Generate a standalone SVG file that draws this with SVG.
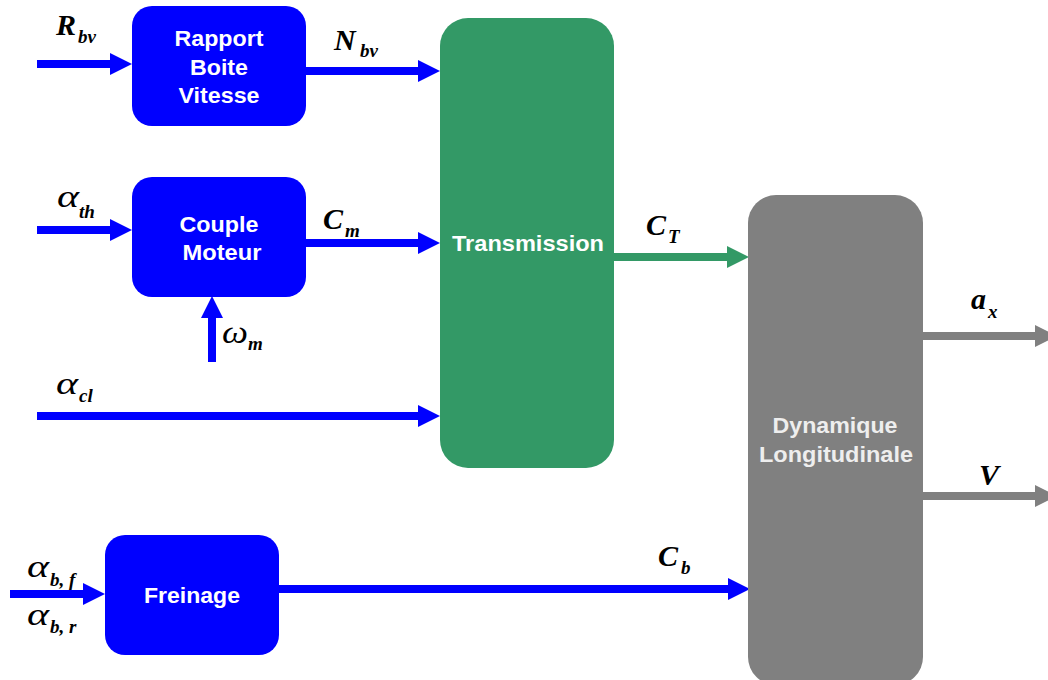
<svg xmlns="http://www.w3.org/2000/svg" width="1048" height="680" viewBox="0 0 1048 680">
<style>
.blk{font-family:"Liberation Sans",Arial,sans-serif;font-weight:bold;font-size:22px;fill:#fff;text-anchor:middle}
.m{font-family:"Liberation Serif","Times New Roman",serif;font-weight:bold;font-style:italic;font-size:30px;fill:#000}
.g{font-family:"Liberation Serif","Times New Roman",serif;font-style:italic;font-size:32px;fill:#000}
.s{font-family:"Liberation Serif","Times New Roman",serif;font-weight:bold;font-style:italic;font-size:19px;fill:#000}
.cb{stroke:#0000ff;stroke-width:8;fill:none}
.cg{stroke:#339966;stroke-width:8;fill:none}
.cy{stroke:#808080;stroke-width:8;fill:none}
</style>
<defs>
<marker id="ab" markerUnits="userSpaceOnUse" markerWidth="22" markerHeight="22" refX="0" refY="11" orient="auto" overflow="visible"><path d="M0,0 L22,11 L0,22 z" fill="#0000ff"/></marker>
<marker id="ag" markerUnits="userSpaceOnUse" markerWidth="22" markerHeight="22" refX="0" refY="11" orient="auto" overflow="visible"><path d="M0,0 L22,11 L0,22 z" fill="#339966"/></marker>
<marker id="ay" markerUnits="userSpaceOnUse" markerWidth="22" markerHeight="22" refX="0" refY="11" orient="auto" overflow="visible"><path d="M0,0 L22,11 L0,22 z" fill="#808080"/></marker>
</defs>
<g id="connectors">
<line class="cb" x1="37" y1="64" x2="110" y2="64" marker-end="url(#ab)"/>
<line class="cb" x1="306" y1="71" x2="418" y2="71" marker-end="url(#ab)"/>
<line class="cb" x1="37" y1="230" x2="110" y2="230" marker-end="url(#ab)"/>
<line class="cb" x1="306" y1="243" x2="418" y2="243" marker-end="url(#ab)"/>
<line class="cb" x1="212" y1="362" x2="212" y2="318" marker-end="url(#ab)"/>
<line class="cb" x1="37" y1="416" x2="418" y2="416" marker-end="url(#ab)"/>
<line class="cb" x1="10" y1="594" x2="83" y2="594" marker-end="url(#ab)"/>
<line class="cb" x1="279" y1="589" x2="728" y2="589" marker-end="url(#ab)"/>
<line class="cg" x1="614" y1="257" x2="727" y2="257" marker-end="url(#ag)"/>
<line class="cy" x1="923" y1="336" x2="1035" y2="336" marker-end="url(#ay)"/>
<line class="cy" x1="923" y1="496" x2="1035" y2="496" marker-end="url(#ay)"/>
</g>
<g id="rapport">
<rect x="132" y="6" width="174" height="120" rx="20" fill="#0000ff"/>
<text class="blk" x="219" y="46" textLength="89" lengthAdjust="spacingAndGlyphs">Rapport</text>
<text class="blk" x="219" y="75" textLength="58" lengthAdjust="spacingAndGlyphs">Boite</text>
<text class="blk" x="219" y="103" textLength="81" lengthAdjust="spacingAndGlyphs">Vitesse</text>
</g>
<g id="couple">
<rect x="132" y="177" width="174" height="120" rx="20" fill="#0000ff"/>
<text class="blk" x="219" y="232" textLength="79" lengthAdjust="spacingAndGlyphs">Couple</text>
<text class="blk" x="222" y="260" textLength="79" lengthAdjust="spacingAndGlyphs">Moteur</text>
</g>
<g id="transmission">
<rect x="440" y="18" width="174" height="450" rx="28" fill="#339966"/>
<text class="blk" x="528" y="251" textLength="152" lengthAdjust="spacingAndGlyphs">Transmission</text>
</g>
<g id="freinage">
<rect x="105" y="535" width="174" height="120" rx="20" fill="#0000ff"/>
<text class="blk" x="192" y="603" textLength="96" lengthAdjust="spacingAndGlyphs">Freinage</text>
</g>
<g id="dynamique">
<rect x="748" y="195" width="175" height="490" rx="28" fill="#808080"/>
<text class="blk" x="835" y="433" textLength="125" lengthAdjust="spacingAndGlyphs" style="fill:#eeeeee">Dynamique</text>
<text class="blk" x="836" y="462" textLength="154" lengthAdjust="spacingAndGlyphs" style="fill:#eeeeee">Longitudinale</text>
</g>
<g id="labels">
<text class="m" x="56" y="35">R</text><text class="s" x="78" y="43">bv</text>
<text class="m" x="334" y="50">N</text><text class="s" x="360" y="57">bv</text>
<text class="g" x="57" y="207" textLength="22" lengthAdjust="spacingAndGlyphs">α</text><text class="s" x="79" y="218">th</text>
<text class="m" x="323" y="229">C</text><text class="s" x="345" y="237">m</text>
<text class="g" x="222" y="343" textLength="26" lengthAdjust="spacingAndGlyphs">ω</text><text class="s" x="248" y="350">m</text>
<text class="g" x="56" y="394" textLength="22" lengthAdjust="spacingAndGlyphs">α</text><text class="s" x="79" y="402">cl</text>
<text class="g" x="27" y="577" textLength="22" lengthAdjust="spacingAndGlyphs">α</text><text class="s" x="50" y="586">b, f</text>
<text class="g" x="27" y="625" textLength="22" lengthAdjust="spacingAndGlyphs">α</text><text class="s" x="50" y="633">b, r</text>
<text class="m" x="658" y="566">C</text><text class="s" x="681" y="574">b</text>
<text class="m" x="646" y="235">C</text><text class="s" x="668" y="243">T</text>
<text class="m" x="971" y="309">a</text><text class="s" x="988" y="318">x</text>
<text class="m" x="979" y="485">V</text>
</g>
</svg>
